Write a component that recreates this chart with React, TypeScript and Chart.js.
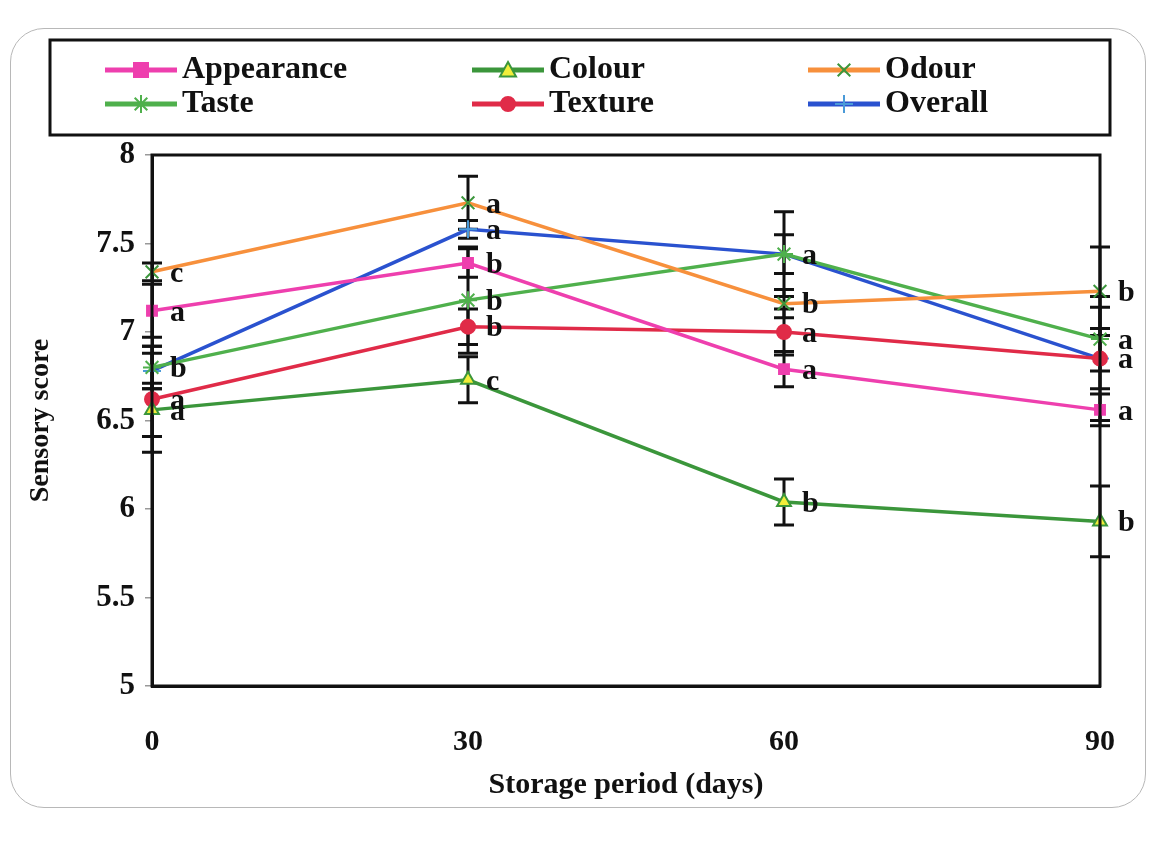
import React, { useEffect, useRef } from "react";
import { Chart, registerables } from "chart.js";

Chart.register(...registerables);

const days = [0, 30, 60, 90];
const xTicks = [0, 30, 60, 90];
const yTicks = [5, 5.5, 6, 6.5, 7, 7.5, 8];

const seriesNames = ["Appearance", "Colour", "Odour", "Taste", "Texture", "Overall"];

const appearance = [7.12, 7.39, 6.79, 6.56];
const colour = [6.56, 6.73, 6.04, 5.93];
const odour = [7.34, 7.73, 7.16, 7.23];
const taste = [6.8, 7.18, 7.44, 6.96];
const texture = [6.62, 7.03, 7.0, 6.85];
const overall = [6.78, 7.58, 7.44, 6.85];

const appearanceErr = [0.15, 0.08, 0.1, 0.09];
const colourErr = [0.15, 0.13, 0.13, 0.2];
const odourErr = [0.05, 0.15, 0.08, 0.25];
const tasteErr = [0.12, 0.3, 0.24, 0.18];
const textureErr = [0.3, 0.1, 0.13, 0.35];
const overallErr = [0.1, 0.05, 0.11, 0.17];

const appearanceLetters = ["a", "b", "a", "a"];
const colourLetters = ["a", "c", "b", "b"];
const odourLetters = ["c", "a", "b", "b"];
const tasteLetters = ["b", "b", "a", "a"];
const textureLetters = ["a", "b", "a", "a"];
const overallLetters = ["", "a", "", ""];

const SERIF = "'Liberation Serif', 'DejaVu Serif', serif";

const styles = [
  { line: "#ee3fae", pointStyle: "rect", fill: "#ee3fae", border: "#ee3fae", r: 7 },
  { line: "#3b963b", pointStyle: "triangle", fill: "#f2ee3a", border: "#3b963b", r: 8 },
  { line: "#f7903c", pointStyle: "crossRot", fill: "#3b963b", border: "#3b963b", r: 9 },
  { line: "#4fb04c", pointStyle: "star", fill: "#4fb04c", border: "#4fb04c", r: 9 },
  { line: "#e02b48", pointStyle: "circle", fill: "#e02b48", border: "#e02b48", r: 7 },
  { line: "#2a52cf", pointStyle: "cross", fill: "#4a9ad8", border: "#4a9ad8", r: 9 },
];

const values = [appearance, colour, odour, taste, texture, overall];
const errors = [appearanceErr, colourErr, odourErr, tasteErr, textureErr, overallErr];
const letters = [appearanceLetters, colourLetters, odourLetters, tasteLetters, textureLetters, overallLetters];

function drawPoint(ctx: CanvasRenderingContext2D, style: string, r: number, x: number, y: number, fill: string, border: string) {
  ctx.save();
  ctx.fillStyle = fill;
  ctx.strokeStyle = border;
  ctx.lineWidth = 2;
  ctx.beginPath();
  if (style === "rect") {
    ctx.rect(x - r, y - r, 2 * r, 2 * r);
    ctx.fill();
    ctx.stroke();
  } else if (style === "circle") {
    ctx.arc(x, y, r, 0, Math.PI * 2);
    ctx.fill();
    ctx.stroke();
  } else if (style === "triangle") {
    ctx.moveTo(x, y - r);
    ctx.lineTo(x + r, y + r * 0.8);
    ctx.lineTo(x - r, y + r * 0.8);
    ctx.closePath();
    ctx.fill();
    ctx.stroke();
  } else if (style === "crossRot") {
    ctx.moveTo(x - r * 0.7, y - r * 0.7);
    ctx.lineTo(x + r * 0.7, y + r * 0.7);
    ctx.moveTo(x + r * 0.7, y - r * 0.7);
    ctx.lineTo(x - r * 0.7, y + r * 0.7);
    ctx.stroke();
  } else if (style === "star") {
    ctx.moveTo(x - r * 0.7, y - r * 0.7);
    ctx.lineTo(x + r * 0.7, y + r * 0.7);
    ctx.moveTo(x + r * 0.7, y - r * 0.7);
    ctx.lineTo(x - r * 0.7, y + r * 0.7);
    ctx.moveTo(x, y - r);
    ctx.lineTo(x, y + r);
    ctx.stroke();
  } else {
    ctx.moveTo(x, y - r);
    ctx.lineTo(x, y + r);
    ctx.moveTo(x - r, y);
    ctx.lineTo(x + r, y);
    ctx.stroke();
  }
  ctx.restore();
}

const errorBarPlugin = {
  id: "errorBars",
  beforeDatasetsDraw(chart: any) {
    const { ctx, scales } = chart;
    const xs = scales.x;
    const ys = scales.y;
    ctx.save();
    ctx.strokeStyle = "#111";
    ctx.lineWidth = 3;
    values.forEach((vals, si) => {
      vals.forEach((v, i) => {
        const e = errors[si][i];
        const x = xs.getPixelForValue(days[i]);
        const yt = ys.getPixelForValue(v + e);
        const yb = ys.getPixelForValue(v - e);
        ctx.beginPath();
        ctx.moveTo(x, yt);
        ctx.lineTo(x, yb);
        ctx.moveTo(x - 10, yt);
        ctx.lineTo(x + 10, yt);
        ctx.moveTo(x - 10, yb);
        ctx.lineTo(x + 10, yb);
        ctx.stroke();
      });
    });
    ctx.restore();
  },
  afterDatasetsDraw(chart: any) {
    const { ctx, scales, chartArea } = chart;
    const xs = scales.x;
    const ys = scales.y;
    ctx.save();
    ctx.strokeStyle = "#111";
    ctx.lineWidth = 3;
    ctx.strokeRect(chartArea.left, chartArea.top, chartArea.right - chartArea.left, chartArea.bottom - chartArea.top);
    ctx.fillStyle = "#111";
    ctx.font = `bold 30px ${SERIF}`;
    ctx.textAlign = "left";
    ctx.textBaseline = "middle";
    values.forEach((vals, si) => {
      vals.forEach((v, i) => {
        const t = letters[si][i];
        if (!t) return;
        const x = xs.getPixelForValue(days[i]);
        const y = ys.getPixelForValue(v);
        ctx.fillText(t, x + 18, y + 2);
      });
    });
    ctx.restore();
  },
};

const legendPlugin = {
  id: "boxLegend",
  afterDraw(chart: any) {
    const { ctx } = chart;
    ctx.save();
    ctx.strokeStyle = "#111";
    ctx.lineWidth = 3;
    ctx.strokeRect(50, 40, 1060, 95);
    const cols = [105, 472, 808];
    const rows = [70, 104];
    ctx.font = `bold 32px ${SERIF}`;
    ctx.textBaseline = "middle";
    ctx.textAlign = "left";
    chart.data.datasets.forEach((ds: any, i: number) => {
      const col = cols[i % 3];
      const row = rows[Math.floor(i / 3)];
      const st = styles[i];
      ctx.strokeStyle = st.line;
      ctx.lineWidth = 5;
      ctx.beginPath();
      ctx.moveTo(col, row);
      ctx.lineTo(col + 72, row);
      ctx.stroke();
      drawPoint(ctx, st.pointStyle, st.r, col + 36, row, st.fill, st.border);
      ctx.fillStyle = "#111";
      ctx.fillText(ds.label, col + 77, row);
    });
    ctx.restore();
  },
};

export default function App() {
  const ref = useRef<HTMLCanvasElement | null>(null);

  useEffect(() => {
    if (!ref.current) return;
    const chart = new Chart(ref.current, {
      type: "line",
      data: {
        labels: days,
        datasets: seriesNames.map((name, i) => ({
          label: name,
          data: days.map((d, j) => ({ x: d, y: values[i][j] })),
          borderColor: styles[i].line,
          backgroundColor: styles[i].fill,
          pointBackgroundColor: styles[i].fill,
          pointBorderColor: styles[i].border,
          pointStyle: styles[i].pointStyle as any,
          pointRadius: styles[i].r,
          pointBorderWidth: 2,
          borderWidth: 3.5,
          tension: 0,
          fill: false,
          clip: false as any,
        })),
      },
      options: {
        animation: false,
        responsive: false,
        maintainAspectRatio: false,
        layout: { padding: { top: 155, right: 57, left: 0, bottom: 0 } },
        plugins: {
          legend: { display: false },
          tooltip: { enabled: false },
          title: { display: false },
        },
        scales: {
          x: {
            type: "linear",
            min: 0,
            max: 90,
            afterBuildTicks: (s: any) => {
              s.ticks = xTicks.map((v) => ({ value: v }));
            },
            afterFit: (s: any) => {
              s.height = 865 - 686;
            },
            ticks: {
              color: "#111",
              font: { family: SERIF, size: 30, weight: "bold" },
              padding: 38,
              maxRotation: 0,
            },
            grid: { display: false, drawTicks: false },
            border: { display: true, color: "#111", width: 3 },
            title: {
              display: true,
              text: "Storage period (days)",
              color: "#111",
              font: { family: SERIF, size: 30, weight: "bold" },
              padding: { bottom: 62 },
            },
          },
          y: {
            min: 5,
            max: 8,
            afterBuildTicks: (s: any) => {
              s.ticks = yTicks.map((v) => ({ value: v }));
            },
            afterFit: (s: any) => {
              s.width = 152;
            },
            ticks: {
              color: "#111",
              font: { family: SERIF, size: 31, weight: "bold" },
              padding: 10,
              callback: (v: any) => String(v),
            },
            grid: { drawOnChartArea: false, drawTicks: true, tickLength: 7, color: "#999", lineWidth: 1.5 },
            border: { display: true, color: "#111", width: 3 },
            title: {
              display: true,
              text: "Sensory score",
              color: "#111",
              font: { family: SERIF, size: 28, weight: "bold" },
              padding: { top: 24 },
            },
          },
        },
      },
      plugins: [errorBarPlugin, legendPlugin],
    });
    return () => chart.destroy();
  }, []);

  return (
    <div style={{ position: "fixed", left: 0, top: 0, width: 1157, height: 865, background: "#fff" }}>
      <div
        style={{
          position: "absolute",
          left: 10,
          top: 28,
          width: 1134,
          height: 778,
          border: "1.5px solid #b8b8b8",
          borderRadius: 34,
        }}
      />
      <canvas ref={ref} width={1157} height={865} style={{ position: "absolute", left: 0, top: 0 }} />
    </div>
  );
}
